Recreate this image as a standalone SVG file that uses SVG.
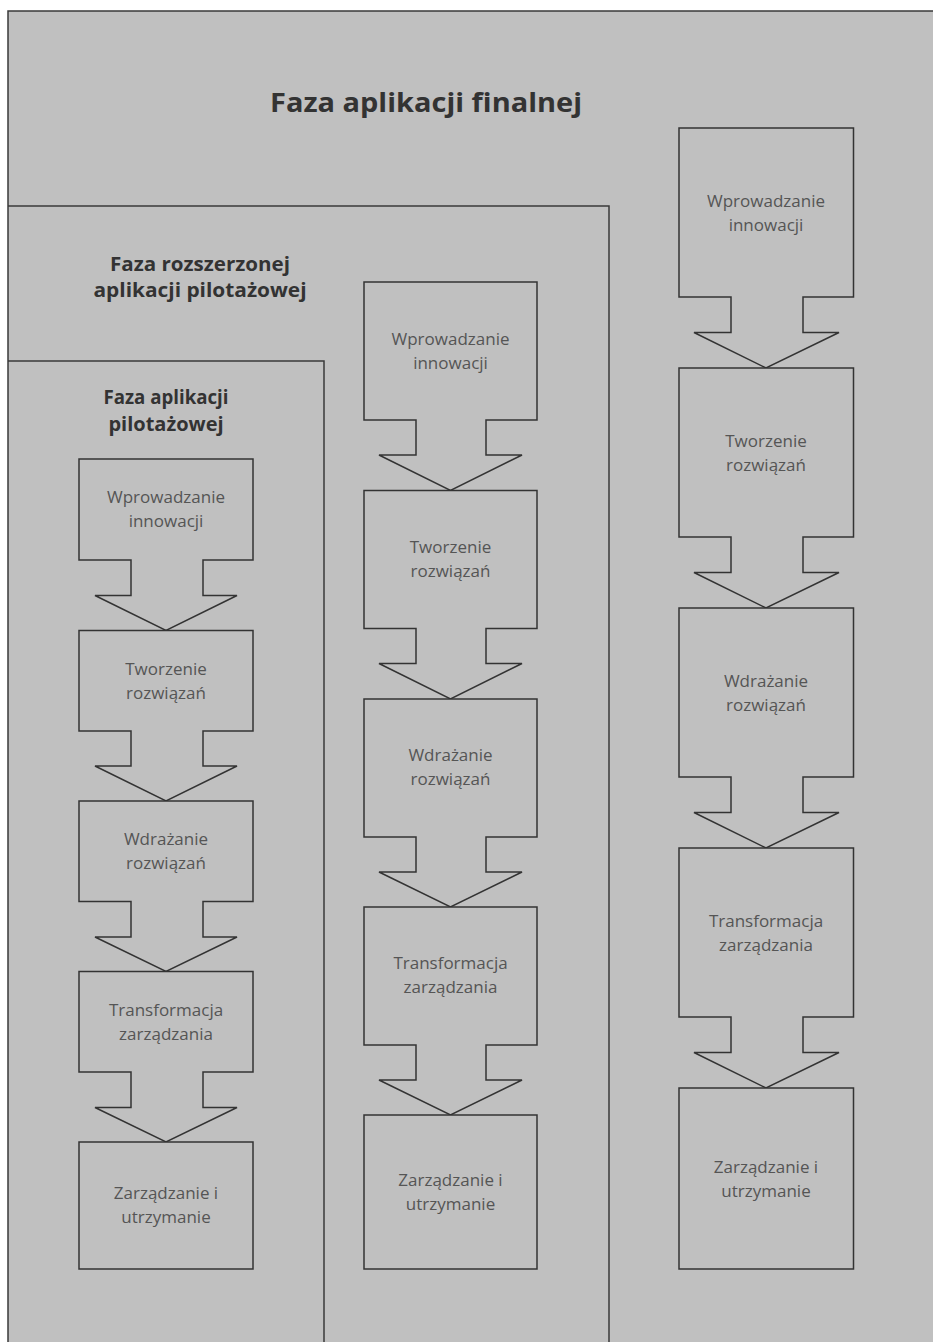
<svg xmlns="http://www.w3.org/2000/svg" width="933" height="1342" viewBox="0 0 933 1342">
<style>
.frame{fill:#c0c0c0;stroke:#3a3a3a;stroke-width:1.5}
.shape{fill:#c0c0c0;stroke:#333;stroke-width:1.5;stroke-linejoin:miter}
.phase{font-family:"Open Sans","Liberation Sans",sans-serif;font-weight:bold;fill:#333;text-anchor:middle}
.lbl{font-family:"Open Sans","Liberation Sans",sans-serif;font-size:17px;fill:#555;text-anchor:middle}
</style>
<rect x="0" y="0" width="933" height="1342" fill="#ffffff"/>
<g id="phase-final">
<rect x="8" y="11" width="930" height="1340" fill="#c0c0c0"/>
<path d="M8,1342 V11 H933" fill="none" stroke="#3a3a3a" stroke-width="1.5"/>
<text class="phase" x="426" y="112" font-size="27" textLength="312" lengthAdjust="spacingAndGlyphs">Faza aplikacji finalnej</text>
</g>
<g id="phase-extended">
<path d="M8,206 H609 V1342" fill="none" stroke="#3a3a3a" stroke-width="1.5"/>
<text class="phase" font-size="20"><tspan x="200" y="271" textLength="180" lengthAdjust="spacingAndGlyphs">Faza rozszerzonej</tspan><tspan x="200" y="297" textLength="213" lengthAdjust="spacingAndGlyphs">aplikacji pilotażowej</tspan></text>
</g>
<g id="phase-pilot">
<path d="M8,361 H324 V1342" fill="none" stroke="#3a3a3a" stroke-width="1.5"/>
<text class="phase" font-size="20"><tspan x="166" y="404" textLength="125" lengthAdjust="spacingAndGlyphs">Faza aplikacji</tspan><tspan x="166" y="431">pilotażowej</tspan></text>
</g>
<g id="connectors"></g>
<!-- Column 1 -->
<g id="c1-n1"><path class="shape" d="M79,459 H253 V560 H203 V595.5 H237 L166,630.5 L95,595.5 H131 V560 H79 Z"/><text class="lbl"><tspan x="166" y="503">Wprowadzanie</tspan><tspan x="166" y="527">innowacji</tspan></text></g>
<g id="c1-n2"><path class="shape" d="M79,630.5 H253 V731 H203 V766 H237 L166,801 L95,766 H131 V731 H79 Z"/><text class="lbl"><tspan x="166" y="675">Tworzenie</tspan><tspan x="166" y="699">rozwiązań</tspan></text></g>
<g id="c1-n3"><path class="shape" d="M79,801 H253 V901.5 H203 V937 H237 L166,971.5 L95,937 H131 V901.5 H79 Z"/><text class="lbl"><tspan x="166" y="845">Wdrażanie</tspan><tspan x="166" y="869">rozwiązań</tspan></text></g>
<g id="c1-n4"><path class="shape" d="M79,971.5 H253 V1072 H203 V1107.5 H237 L166,1142 L95,1107.5 H131 V1072 H79 Z"/><text class="lbl"><tspan x="166" y="1016">Transformacja</tspan><tspan x="166" y="1040">zarządzania</tspan></text></g>
<g id="c1-n5"><rect class="shape" x="79" y="1142" width="174" height="127"/><text class="lbl"><tspan x="166" y="1199">Zarządzanie i</tspan><tspan x="166" y="1223">utrzymanie</tspan></text></g>
<!-- Column 2 -->
<g id="c2-n1"><path class="shape" d="M364,282 H537 V420 H486 V455 H522 L450.5,490.5 L379,455 H416 V420 H364 Z"/><text class="lbl"><tspan x="450.5" y="345">Wprowadzanie</tspan><tspan x="450.5" y="369">innowacji</tspan></text></g>
<g id="c2-n2"><path class="shape" d="M364,490.5 H537 V628.5 H486 V663.5 H522 L450.5,699 L379,663.5 H416 V628.5 H364 Z"/><text class="lbl"><tspan x="450.5" y="553">Tworzenie</tspan><tspan x="450.5" y="577">rozwiązań</tspan></text></g>
<g id="c2-n3"><path class="shape" d="M364,699 H537 V837 H486 V872 H522 L450.5,907 L379,872 H416 V837 H364 Z"/><text class="lbl"><tspan x="450.5" y="761">Wdrażanie</tspan><tspan x="450.5" y="785">rozwiązań</tspan></text></g>
<g id="c2-n4"><path class="shape" d="M364,907 H537 V1045 H486 V1080 H522 L450.5,1115 L379,1080 H416 V1045 H364 Z"/><text class="lbl"><tspan x="450.5" y="969">Transformacja</tspan><tspan x="450.5" y="993">zarządzania</tspan></text></g>
<g id="c2-n5"><rect class="shape" x="364" y="1115" width="173" height="154"/><text class="lbl"><tspan x="450.5" y="1186">Zarządzanie i</tspan><tspan x="450.5" y="1210">utrzymanie</tspan></text></g>
<!-- Column 3 -->
<g id="c3-n1"><path class="shape" d="M679,128 H853.5 V297 H803 V332.5 H839 L766,368 L694,332.5 H731 V297 H679 Z"/><text class="lbl"><tspan x="766" y="206.5">Wprowadzanie</tspan><tspan x="766" y="230.5">innowacji</tspan></text></g>
<g id="c3-n2"><path class="shape" d="M679,368 H853.5 V537 H803 V572.5 H839 L766,608 L694,572.5 H731 V537 H679 Z"/><text class="lbl"><tspan x="766" y="446.5">Tworzenie</tspan><tspan x="766" y="470.5">rozwiązań</tspan></text></g>
<g id="c3-n3"><path class="shape" d="M679,608 H853.5 V777 H803 V812.5 H839 L766,848 L694,812.5 H731 V777 H679 Z"/><text class="lbl"><tspan x="766" y="686.5">Wdrażanie</tspan><tspan x="766" y="710.5">rozwiązań</tspan></text></g>
<g id="c3-n4"><path class="shape" d="M679,848 H853.5 V1017 H803 V1052.5 H839 L766,1088 L694,1052.5 H731 V1017 H679 Z"/><text class="lbl"><tspan x="766" y="926.5">Transformacja</tspan><tspan x="766" y="950.5">zarządzania</tspan></text></g>
<g id="c3-n5"><rect class="shape" x="679" y="1088" width="174.5" height="181"/><text class="lbl"><tspan x="766" y="1172.5">Zarządzanie i</tspan><tspan x="766" y="1196.5">utrzymanie</tspan></text></g>
</svg>
